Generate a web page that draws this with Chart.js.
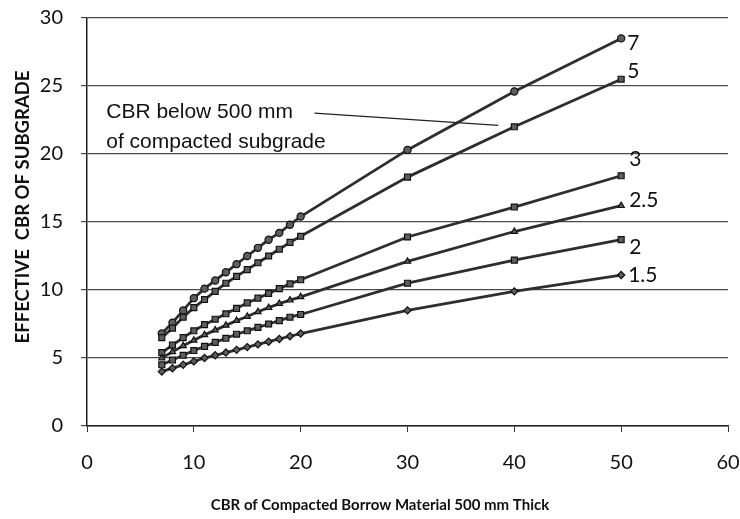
<!DOCTYPE html>
<html><head><meta charset="utf-8">
<script src="https://cdn.jsdelivr.net/npm/chart.js@4.4.1/dist/chart.umd.min.js"></script>
<style>html,body{margin:0;padding:0;background:#fff;}</style>
</head><body>
<canvas id="c" width="740" height="519"></canvas>
<script>
// ---- data ----
const xValues   = [7, 8, 9, 10, 11, 12, 13, 14, 15, 16, 17, 18, 19, 20, 30, 40, 50];
const cbr1_5    = [4.0, 4.25, 4.5, 4.75, 5.0, 5.2, 5.4, 5.6, 5.8, 6.0, 6.2, 6.4, 6.6, 6.8, 8.5, 9.9, 11.1];
const cbr2      = [4.5, 4.85, 5.2, 5.55, 5.85, 6.15, 6.45, 6.75, 7.0, 7.25, 7.5, 7.75, 8.0, 8.2, 10.5, 12.2, 13.7];
const cbr2_5    = [5.0, 5.45, 5.9, 6.3, 6.7, 7.05, 7.4, 7.75, 8.05, 8.4, 8.7, 9.0, 9.25, 9.5, 12.1, 14.3, 16.2];
const cbr3      = [5.4, 5.95, 6.5, 7.0, 7.45, 7.85, 8.25, 8.65, 9.05, 9.4, 9.75, 10.1, 10.45, 10.75, 13.9, 16.1, 18.4];
const cbr5      = [6.5, 7.2, 8.0, 8.7, 9.3, 9.9, 10.5, 11.0, 11.5, 12.0, 12.5, 13.0, 13.5, 13.95, 18.3, 22.0, 25.5];
const cbr7      = [6.8, 7.6, 8.5, 9.4, 10.1, 10.7, 11.3, 11.9, 12.5, 13.1, 13.7, 14.2, 14.8, 15.4, 20.3, 24.6, 28.5];
const seriesLabels = ['1.5', '2', '2.5', '3', '5', '7'];
const seriesValues = [cbr1_5, cbr2, cbr2_5, cbr3, cbr5, cbr7];
const yTicks = [0, 5, 10, 15, 20, 25, 30];
const xTicks = [0, 10, 20, 30, 40, 50, 60];
const xTitle = 'CBR of Compacted Borrow Material 500 mm Thick';
const yTitle = 'EFFECTIVE  CBR OF SUBGRADE';
const noteLines = ['CBR below 500 mm', 'of compacted subgrade'];
const noteTextPos = [[1.8, 23.1], [1.8, 20.9]];
const noteLeader = [[21.3, 23.0], [38.5, 22.1]];

// ---- styles ----
const pointStyles = ['rectRot', 'rect', 'triangle', 'rect', 'rect', 'circle'];
const labelOffsets = [[7, 0], [8, 8], [8, -5], [8, -17], [6, -8], [6, 5]];

const datasets = seriesValues.map((vals, i) => ({
  label: seriesLabels[i],
  data: xValues.map((x, j) => ({ x: x, y: vals[j] })),
  borderColor: '#2e2e2e',
  borderWidth: 2.8,
  backgroundColor: '#777',
  pointBackgroundColor: '#5e5e5e',
  pointBorderColor: '#111',
  pointBorderWidth: 1.2,
  pointStyle: pointStyles[i],
  pointRadius: pointStyles[i] === 'rect' ? 4.2 : 3.6,
  tension: 0,
  fill: false
}));

const labelPlugin = {
  id: 'labels',
  afterDatasetsDraw(chart) {
    const ctx = chart.ctx;
    const xs = chart.scales.x, ys = chart.scales.y;
    ctx.save();
    ctx.fillStyle = '#111';
    // series end labels
    ctx.font = '21px Lato';
    ctx.textAlign = 'left';
    ctx.textBaseline = 'middle';
    chart.data.datasets.forEach((ds, i) => {
      const meta = chart.getDatasetMeta(i);
      const p = meta.data[meta.data.length - 1];
      ctx.fillText(ds.label, p.x + labelOffsets[i][0], p.y + labelOffsets[i][1]);
    });
    // note text
    ctx.font = '21px "Liberation Sans"';
    noteLines.forEach((t, i) => {
      ctx.fillText(t, xs.getPixelForValue(noteTextPos[i][0]), ys.getPixelForValue(noteTextPos[i][1]));
    });
    // leader line
    ctx.strokeStyle = '#222';
    ctx.lineWidth = 1.2;
    ctx.beginPath();
    ctx.moveTo(xs.getPixelForValue(noteLeader[0][0]), ys.getPixelForValue(noteLeader[0][1]));
    ctx.lineTo(xs.getPixelForValue(noteLeader[1][0]), ys.getPixelForValue(noteLeader[1][1]));
    ctx.stroke();
    // axis titles
    ctx.textAlign = 'center';
    ctx.font = 'bold 15px Lato';
    ctx.fillText(xTitle, 380, 505);
    ctx.translate(23, 207);
    ctx.rotate(-Math.PI / 2);
    ctx.font = 'bold 18.5px Lato';
    ctx.fillText(yTitle, 0, 0);
    ctx.restore();
  }
};

new Chart(document.getElementById('c'), {
  type: 'line',
  data: { datasets },
  plugins: [labelPlugin],
  options: {
    responsive: false,
    animation: false,
    devicePixelRatio: 1,
    layout: { padding: { top: 18, right: 12, left: 0, bottom: 0 } },
    plugins: { legend: { display: false }, tooltip: { enabled: false } },
    scales: {
      x: {
        type: 'linear',
        min: 0, max: 60,
        afterBuildTicks: (s) => { s.ticks = xTicks.map(v => ({ value: v })); },
        afterFit: (s) => { s.height = 93; s.paddingLeft = 0; s.paddingRight = 0; },
        border: { display: true, color: '#222', width: 1.5 },
        grid: { drawOnChartArea: false, drawTicks: true, tickLength: 6, color: '#333' },
        ticks: { color: '#111', font: { family: 'Lato', size: 20 }, padding: 19, maxRotation: 0 }
      },
      y: {
        min: 0, max: 30,
        afterBuildTicks: (s) => { s.ticks = yTicks.map(v => ({ value: v })); },
        afterFit: (s) => { s.width = 87; s.paddingTop = 0; s.paddingBottom = 0; },
        border: { display: true, color: '#222', width: 1.5 },
        grid: { color: '#4a4a4a', lineWidth: 1.2, tickLength: 6, drawTicks: true },
        ticks: { color: '#111', font: { family: 'Lato', size: 20 }, padding: 18 }
      }
    }
  }
});
</script>
</body></html>
